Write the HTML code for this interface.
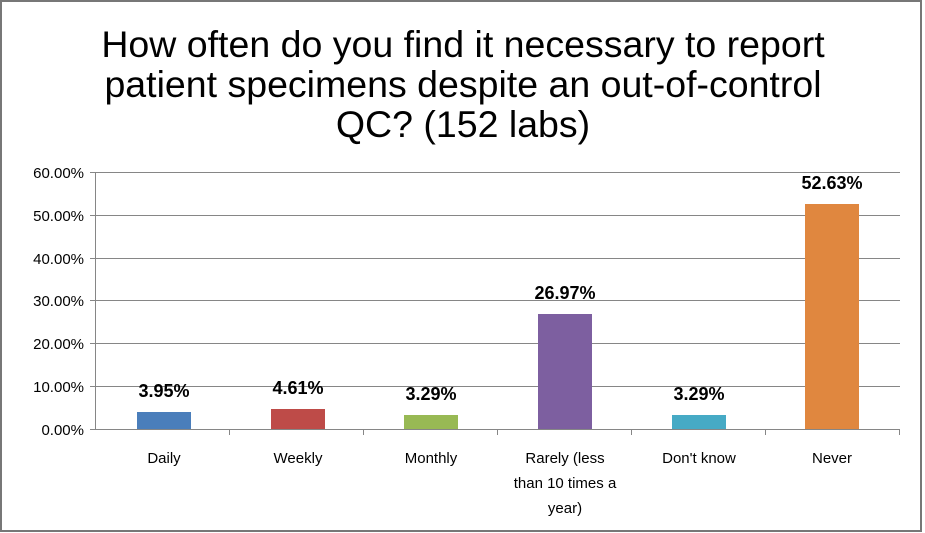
<!DOCTYPE html>
<html><head><style>
html,body{margin:0;padding:0;background:#fff}
svg{display:block}
text{font-family:"Liberation Sans",sans-serif}
</style></head><body>
<svg width="925" height="533" viewBox="0 0 925 533">
<rect x="1" y="1" width="920" height="530" fill="#fff" stroke="#777" stroke-width="2"/>
<g font-size="37.5" text-anchor="middle" fill="#000">
<text x="463" y="57">How often do you find it necessary to report</text>
<text x="463" y="97">patient specimens despite an out-of-control</text>
<text x="463" y="137">QC? (152 labs)</text>
</g>
<g stroke="#868686" stroke-width="1">
<line x1="95" y1="172.5" x2="900" y2="172.5"/>
<line x1="95" y1="215.5" x2="900" y2="215.5"/>
<line x1="95" y1="258.5" x2="900" y2="258.5"/>
<line x1="95" y1="300.5" x2="900" y2="300.5"/>
<line x1="95" y1="343.5" x2="900" y2="343.5"/>
<line x1="95" y1="386.5" x2="900" y2="386.5"/>
<line x1="95.5" y1="172" x2="95.5" y2="429"/>
<line x1="90" y1="172.5" x2="95" y2="172.5"/>
<line x1="90" y1="215.5" x2="95" y2="215.5"/>
<line x1="90" y1="258.5" x2="95" y2="258.5"/>
<line x1="90" y1="300.5" x2="95" y2="300.5"/>
<line x1="90" y1="343.5" x2="95" y2="343.5"/>
<line x1="90" y1="386.5" x2="95" y2="386.5"/>
<line x1="90" y1="429.5" x2="95" y2="429.5"/>
</g>
<rect x="137" y="412" width="54" height="17" fill="#4a7ebb"/>
<rect x="271" y="409" width="54" height="20" fill="#be4b48"/>
<rect x="404" y="415" width="54" height="14" fill="#98b954"/>
<rect x="538" y="314" width="54" height="115" fill="#7d5fa0"/>
<rect x="672" y="415" width="54" height="14" fill="#46aac5"/>
<rect x="805" y="204" width="54" height="225" fill="#e0873f"/>
<g stroke="#868686">
<line x1="95" y1="429.5" x2="900" y2="429.5"/>
<line x1="229.5" y1="429" x2="229.5" y2="435"/>
<line x1="363.5" y1="429" x2="363.5" y2="435"/>
<line x1="497.5" y1="429" x2="497.5" y2="435"/>
<line x1="631.5" y1="429" x2="631.5" y2="435"/>
<line x1="765.5" y1="429" x2="765.5" y2="435"/>
<line x1="899.5" y1="429" x2="899.5" y2="435"/>
</g>
<g font-size="15" text-anchor="end">
<text x="84" y="178">60.00%</text>
<text x="84" y="221">50.00%</text>
<text x="84" y="264">40.00%</text>
<text x="84" y="306">30.00%</text>
<text x="84" y="349">20.00%</text>
<text x="84" y="392">10.00%</text>
<text x="84" y="435">0.00%</text>
</g>
<g font-size="18" font-weight="bold" text-anchor="middle">
<text x="164" y="397">3.95%</text>
<text x="298" y="394">4.61%</text>
<text x="431" y="400">3.29%</text>
<text x="565" y="299">26.97%</text>
<text x="699" y="400">3.29%</text>
<text x="832" y="189">52.63%</text>
</g>
<g font-size="15" text-anchor="middle">
<text x="164" y="463">Daily</text>
<text x="298" y="463">Weekly</text>
<text x="431" y="463">Monthly</text>
<text x="565" y="463">Rarely (less</text>
<text x="565" y="488">than 10 times a</text>
<text x="565" y="513">year)</text>
<text x="699" y="463">Don't know</text>
<text x="832" y="463">Never</text>
</g>
</svg>
</body></html>
